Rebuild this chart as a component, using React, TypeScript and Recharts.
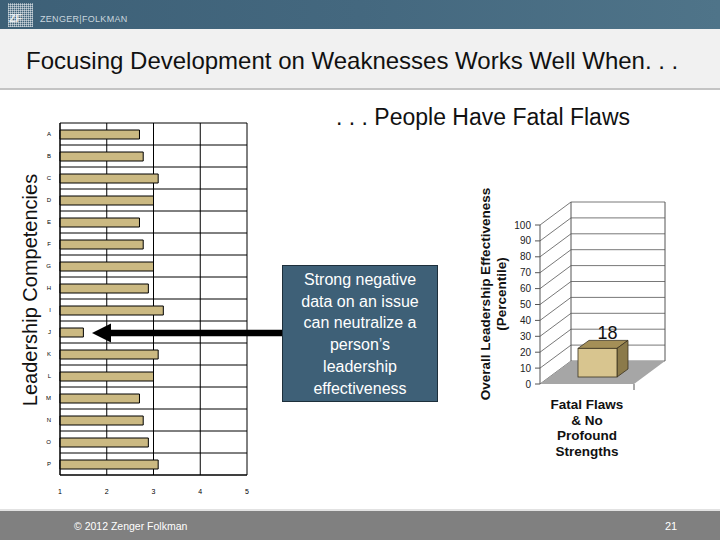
import { BarChart, Bar, XAxis, YAxis, CartesianGrid, LabelList, Customized, usePlotArea } from "recharts";

const competencies = ["A", "B", "C", "D", "E", "F", "G", "H", "I", "J", "K", "L", "M", "N", "O", "P"];
const competencyScores = [2.7, 2.78, 3.1, 3.0, 2.7, 2.78, 3.0, 2.89, 3.21, 1.5, 3.1, 3.0, 2.7, 2.78, 2.89, 3.1];
const scoreTicks = [1, 2, 3, 4, 5];

const outcomeNames = ["Fatal Flaws & No Profound Strengths"];
const outcomeLabelLines = ["Fatal Flaws", "& No", "Profound", "Strengths"];
const outcomeValues = [18];
const percentileTicks = [0, 10, 20, 30, 40, 50, 60, 70, 80, 90, 100];

const FONT = "Arial, 'Liberation Sans', sans-serif";
const DEPTH_X = 31;
const DEPTH_Y = -23;

const competencyData = competencies.map((name, i) => ({ name, score: competencyScores[i] }));
const outcomeData = outcomeNames.map((name, i) => ({ name, value: outcomeValues[i] }));

// back wall + floor of the 3d chart, sits behind everything
const Frame3D = () => {
  const plot = usePlotArea();
  if (!plot) return null;
  const { x, y, width, height } = plot;
  const bx = x + DEPTH_X;
  const by = y + DEPTH_Y;
  return (
    <g>
      <polygon
        points={`${x},${y + height} ${x + width},${y + height} ${bx + width},${by + height} ${bx},${by + height}`}
        fill="#a6a6a6"
      />
      <line x1={bx} y1={by} x2={bx} y2={by + height} stroke="#555" />
      <line x1={bx + width} y1={by} x2={bx + width} y2={by + height} stroke="#555" />
      <line x1={x} y1={y} x2={x} y2={y + height} stroke="#555" />
      <line x1={x + width} y1={y + height} x2={x + width} y2={y + height + 6} stroke="#555" />
    </g>
  );
};

// each horizontal grid line becomes a diagonal on the side wall + a line on the back wall
const WallLine = (props: any) => {
  const { x1, y1, x2 } = props;
  const w = x2 - x1;
  return (
    <g key={props.key ?? props.index}>
      <line x1={x1} y1={y1} x2={x1 + DEPTH_X} y2={y1 + DEPTH_Y} stroke="#555" strokeWidth={0.8} />
      <line x1={x1 + DEPTH_X} y1={y1 + DEPTH_Y} x2={x1 + DEPTH_X + w} y2={y1 + DEPTH_Y} stroke="#555" strokeWidth={0.8} />
    </g>
  );
};

const Box3D = (props: any) => {
  const { x, y, width, height } = props;
  const fx = x + 10;
  const fy = y - 7;
  const dx = 11;
  const dy = -8;
  return (
    <g stroke="#3b321f" strokeWidth={0.8}>
      <polygon points={`${fx},${fy} ${fx + width},${fy} ${fx + width + dx},${fy + dy} ${fx + dx},${fy + dy}`} fill="#a48f57" />
      <polygon
        points={`${fx + width},${fy} ${fx + width + dx},${fy + dy} ${fx + width + dx},${fy + height + dy} ${fx + width},${fy + height}`}
        fill="#8b7a4a"
      />
      <rect x={fx} y={fy} width={width} height={height} fill="#d8c58f" />
    </g>
  );
};

const OutcomeTick = (props: any) => {
  const { x, y } = props;
  return (
    <text x={x} y={y} textAnchor="middle" fontFamily={FONT} fontWeight="bold" fontSize={13.5} fill="#111">
      {outcomeLabelLines.map((line, i) => (
        <tspan key={line} x={x} dy={i === 0 ? 17 : 15.7}>
          {line}
        </tspan>
      ))}
    </text>
  );
};

const CompetencyChart = () => (
  <BarChart
    layout="vertical"
    width={260}
    height={410}
    data={competencyData}
    margin={{ top: 23, right: 13, bottom: 5, left: 10 }}
  >
    <CartesianGrid
      stroke="#000"
      horizontalCoordinatesGenerator={({ offset }: any) =>
        [...competencies, ""].map((_, i) => offset.top + (i * offset.height) / competencies.length)
      }
      verticalCoordinatesGenerator={({ xAxis, offset }: any) =>
        xAxis && typeof xAxis.scale === "function"
          ? scoreTicks.map((t) => xAxis.scale(t))
          : scoreTicks.map((_, i) => offset.left + (i * offset.width) / (scoreTicks.length - 1))
      }
    />
    <XAxis
      type="number"
      domain={[1, 5]}
      ticks={scoreTicks}
      interval={0}
      height={30}
      tickLine={false}
      tickMargin={8}
      axisLine={{ stroke: "#000" }}
      tick={{ fontSize: 7, fill: "#000", fontFamily: FONT }}
    />
    <YAxis
      type="category"
      dataKey="name"
      width={50}
      interval={0}
      tickLine={false}
      tickMargin={3}
      axisLine={{ stroke: "#000" }}
      tick={{ fontSize: 6, fill: "#000", fontFamily: FONT }}
    />
    <Bar dataKey="score" fill="#cbb982" stroke="#000" strokeWidth={1} barSize={9} isAnimationActive={false} />
  </BarChart>
);

const OutcomeChart = () => (
  <BarChart width={250} height={280} data={outcomeData} margin={{ top: 35, right: 86, bottom: 0, left: 10 }}>
    <Customized component={<Frame3D />} />
    <CartesianGrid vertical={false} horizontal={(p: any) => <WallLine {...p} />} />
    <XAxis dataKey="name" height={86} axisLine={false} tickLine={false} interval={0} tick={<OutcomeTick />} />
    <YAxis
      domain={[0, 100]}
      ticks={percentileTicks}
      interval={0}
      width={60}
      tickSize={5}
      tickMargin={4}
      axisLine={false}
      tickLine={{ stroke: "#555" }}
      tick={{ fontSize: 10, fill: "#222", fontFamily: FONT }}
    />
    <Bar dataKey="value" barSize={39} shape={<Box3D />} isAnimationActive={false}>
      <LabelList
        dataKey="value"
        content={(p: any) => (
          <text x={p.x + p.width / 2 + 20} y={p.y - 16} textAnchor="middle" fontSize={18} fontFamily={FONT} fill="#111">
            {p.value}
          </text>
        )}
      />
    </Bar>
  </BarChart>
);

export default function App() {
  return (
    <div
      style={{
        position: "absolute",
        left: 0,
        top: 0,
        width: 720,
        height: 540,
        background: "#fff",
        overflow: "hidden",
        fontFamily: FONT,
      }}
    >
      {/* header band */}
      <div
        style={{
          position: "absolute",
          left: 0,
          top: 0,
          width: 720,
          height: 29,
          background: "linear-gradient(90deg, #3d6077 0%, #44687f 50%, #4f7489 100%)",
        }}
      >
        <div
          style={{
            position: "absolute",
            left: 8,
            top: 3,
            width: 25,
            height: 24,
            backgroundImage:
              "repeating-linear-gradient(90deg, rgba(255,255,255,0.45) 0 1px, transparent 1px 2px), repeating-linear-gradient(0deg, rgba(255,255,255,0.45) 0 1px, transparent 1px 2px)",
          }}
        />
        <div
          style={{
            position: "absolute",
            left: 9,
            top: 12,
            fontSize: 11,
            fontWeight: "bold",
            color: "#e8eef2",
            letterSpacing: -0.5,
          }}
        >
          ZF
        </div>
        <div
          style={{
            position: "absolute",
            left: 40,
            top: 14,
            fontSize: 9,
            color: "#c9d6de",
            letterSpacing: 0.3,
          }}
        >
          ZENGER|FOLKMAN
        </div>
      </div>
      {/* title band */}
      <div
        style={{
          position: "absolute",
          left: 0,
          top: 29,
          width: 720,
          height: 59,
          background: "#f1f1f1",
          borderBottom: "2px solid #c4c4c4",
        }}
      >
        <div style={{ position: "absolute", left: 26, top: 18, fontSize: 24, color: "#111", whiteSpace: "nowrap" }}>
          Focusing Development on Weaknesses Works Well When. . .
        </div>
      </div>
      <div style={{ position: "absolute", left: 336, top: 104, fontSize: 23, color: "#111", whiteSpace: "nowrap" }}>
        . . . People Have Fatal Flaws
      </div>

      {/* left chart */}
      <div style={{ position: "absolute", left: 0, top: 100 }}>
        <CompetencyChart />
      </div>
      <div
        style={{
          position: "absolute",
          left: 30,
          top: 290,
          transform: "translate(-50%, -50%) rotate(-90deg)",
          fontSize: 20,
          color: "#111",
          whiteSpace: "nowrap",
        }}
      >
        Leadership Competencies
      </div>

      {/* arrow from callout to J */}
      <svg style={{ position: "absolute", left: 0, top: 0 }} width={720} height={540}>
        <line x1={108} y1={333} x2={284} y2={333} stroke="#000" strokeWidth={6.5} />
        <polygon points="92,333 111,323.5 111,342.5" fill="#000" />
      </svg>

      {/* callout */}
      <div
        style={{
          position: "absolute",
          left: 282,
          top: 265,
          width: 156,
          height: 137,
          boxSizing: "border-box",
          background: "#3e6077",
          border: "1px solid #1d2f3b",
          color: "#fff",
          fontSize: 16,
          lineHeight: "21.7px",
          textAlign: "center",
          paddingTop: 3,
        }}
      >
        Strong negative
        <br />
        data on an issue
        <br />
        can neutralize a
        <br />
        person’s
        <br />
        leadership
        <br />
        effectiveness
      </div>

      {/* right chart */}
      <div style={{ position: "absolute", left: 470, top: 190 }}>
        <OutcomeChart />
      </div>
      <div
        style={{
          position: "absolute",
          left: 485,
          top: 294,
          transform: "translate(-50%, -50%) rotate(-90deg)",
          fontSize: 13.5,
          fontWeight: "bold",
          color: "#111",
          whiteSpace: "nowrap",
        }}
      >
        Overall Leadership Effectiveness
      </div>
      <div
        style={{
          position: "absolute",
          left: 501,
          top: 294,
          transform: "translate(-50%, -50%) rotate(-90deg)",
          fontSize: 13.5,
          fontWeight: "bold",
          color: "#111",
          whiteSpace: "nowrap",
        }}
      >
        (Percentile)
      </div>

      {/* footer */}
      <div
        style={{
          position: "absolute",
          left: 0,
          top: 509,
          width: 720,
          height: 31,
          background: "#808080",
          borderTop: "2px solid #e2e2e2",
          boxSizing: "border-box",
          color: "#fff",
          fontSize: 10.5,
        }}
      >
        <div style={{ position: "absolute", left: 74, top: 9 }}>© 2012 Zenger Folkman</div>
        <div style={{ position: "absolute", left: 665, top: 9, fontSize: 11 }}>21</div>
      </div>
    </div>
  );
}
